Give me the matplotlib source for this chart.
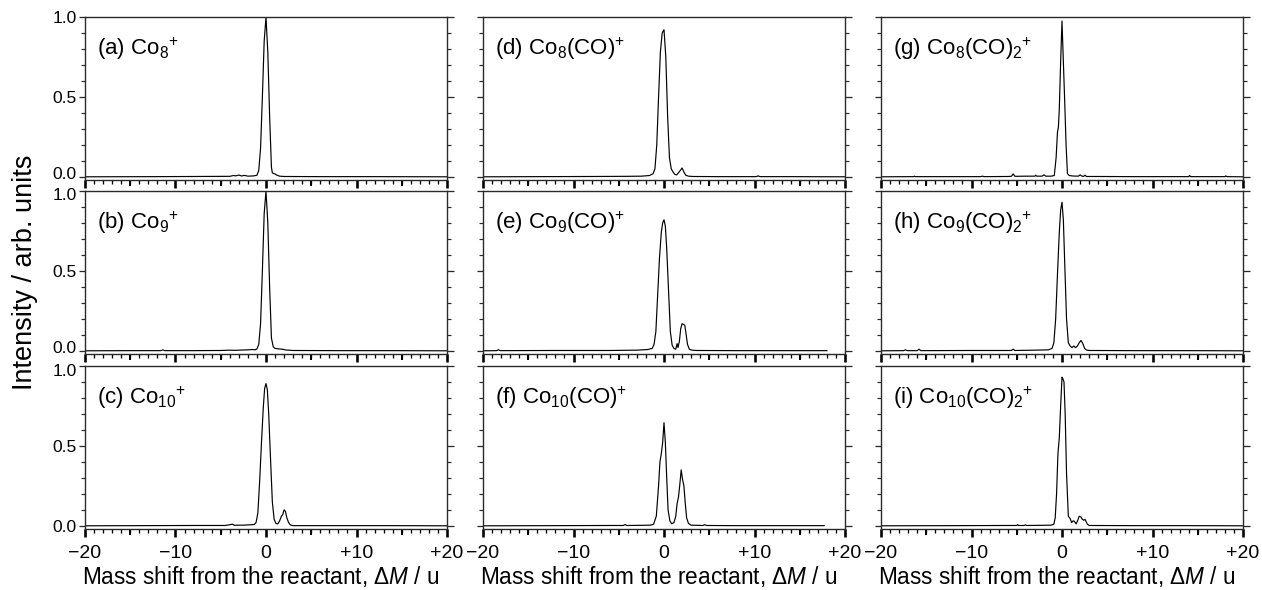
import matplotlib
matplotlib.use("Agg")
import matplotlib.pyplot as plt
from matplotlib.ticker import MultipleLocator, FixedLocator, FixedFormatter
from matplotlib.transforms import ScaledTranslation

plt.rcParams['font.family'] = ['Liberation Sans', 'DejaVu Sans']
plt.rcParams['mathtext.fontset'] = 'custom'
plt.rcParams['mathtext.rm'] = 'Liberation Sans'
plt.rcParams['mathtext.it'] = 'Liberation Sans:italic'
plt.rcParams['mathtext.default'] = 'regular'

# ---------------- data ----------------
labels = [r'(a) Co$_8\!{}^+$', r'(b) Co$_9\!{}^+$', r'(c) Co$_{10}\!{}^+$',
          r'(d) Co$_8$(CO)$\!^+$', r'(e) Co$_9$(CO)$\!^+$', r'(f) Co$_{10}$(CO)$\!^+$',
          r'(g) Co$_8$(CO)$_2\!{}^+$', r'(h) Co$_9$(CO)$_2\!{}^+$', r'(i) Co$_{10}$(CO)$_2\!{}^+$']

a_x = [-20, -12, -8, -4.0, -3.6, -3.3, -3.0, -2.7, -2.4, -2.0, -1.6, -1.3, -1.0, -0.8, -0.6, -0.4, -0.2, 0.0,
       0.2, 0.4, 0.6, 0.7, 0.85, 1.0, 1.2, 1.5, 2.0, 6, 12, 20]
a_y = [0, 0.001, 0.002, 0.003, 0.008, 0.006, 0.011, 0.005, 0.009, 0.004, 0.005, 0.006, 0.01, 0.04, 0.18, 0.5,
       0.85, 1.0, 0.78, 0.38, 0.06, 0.025, 0.02, 0.018, 0.01, 0.004, 0.002, 0.001, 0.001, 0.0]

b_x = [-20, -15, -11.6, -11.4, -11.2, -8, -5, -4.0, -3.5, -2.0, -1.5, -1.2, -1.0, -0.8, -0.6, -0.4, -0.2, 0,
       0.2, 0.4, 0.6, 0.8, 1.0, 1.4, 1.8, 2.2, 3, 8, 14, 20]
b_y = [0, 0.001, 0.001, 0.006, 0.001, 0.001, 0.002, 0.004, 0.003, 0.006, 0.008, 0.006, 0.012, 0.04, 0.17, 0.5,
       0.86, 1.0, 0.8, 0.4, 0.08, 0.025, 0.015, 0.012, 0.01, 0.005, 0.002, 0.001, 0.001, 0]

c_x = [-20, -14, -8, -4.5, -3.7, -3.5, -3.2, -2.5, -1.8, -1.3, -1.1, -0.9, -0.7, -0.5, -0.3, -0.15, 0, 0.15,
       0.3, 0.5, 0.7, 0.9, 1.1, 1.3, 1.5, 1.7, 1.85, 2.0, 2.15, 2.3, 2.5, 2.7, 3.0, 8, 14, 20]
c_y = [0, 0.001, 0.002, 0.002, 0.01, 0.003, 0.004, 0.004, 0.006, 0.008, 0.02, 0.08, 0.28, 0.52, 0.74, 0.86,
       0.89, 0.85, 0.7, 0.42, 0.15, 0.04, 0.015, 0.012, 0.03, 0.06, 0.07, 0.10, 0.09, 0.05, 0.02, 0.005, 0.001,
       0.001, 0.001, 0]

d_x = [-20, -14, -8, -4, -2.5, -1.6, -1.2, -1.0, -0.8, -0.6, -0.4, -0.2, 0, 0.2, 0.4, 0.6, 0.8, 1.0, 1.2, 1.4,
       1.6, 1.8, 2.0, 2.2, 2.4, 2.7, 3.2, 6, 10.2, 10.4, 10.6, 14, 20]
d_y = [0, 0.001, 0.002, 0.003, 0.004, 0.008, 0.02, 0.05, 0.2, 0.5, 0.78, 0.9, 0.92, 0.75, 0.38, 0.12, 0.05,
       0.03, 0.015, 0.012, 0.025, 0.04, 0.055, 0.03, 0.01, 0.004, 0.002, 0.001, 0.001, 0.006, 0.001, 0.001, 0]

e_x = [-20, -18.5, -18.3, -18.1, -12, -6, -3, -1.8, -1.3, -1.1, -0.9, -0.7, -0.5, -0.3, -0.15, 0, 0.15, 0.3,
       0.5, 0.7, 0.9, 1.1, 1.3, 1.45, 1.55, 1.7, 1.85, 2.0, 2.15, 2.3, 2.45, 2.6, 2.8, 3.1, 3.6, 8, 13, 18]
e_y = [0, 0.001, 0.007, 0.001, 0.002, 0.002, 0.004, 0.008, 0.015, 0.04, 0.12, 0.35, 0.58, 0.74, 0.8, 0.82,
       0.78, 0.64, 0.38, 0.12, 0.035, 0.015, 0.01, 0.045, 0.02, 0.06, 0.14, 0.17, 0.165, 0.16, 0.1, 0.04, 0.01,
       0.004, 0.002, 0.001, 0.001, 0.001]

f_x = [-20, -12, -6, -4.5, -4.3, -4.1, -2.5, -1.5, -1.15, -0.85, -0.6, -0.45, -0.3, -0.15, 0, 0.15, 0.3,
       0.45, 0.65, 0.85, 1.1, 1.3, 1.45, 1.6, 1.75, 1.9, 2.05, 2.2, 2.35, 2.5, 2.7, 3.0, 4.3, 4.5, 4.7, 8, 12,
       17.7]
f_y = [0, 0.001, 0.002, 0.002, 0.008, 0.002, 0.003, 0.004, 0.01, 0.06, 0.25, 0.4, 0.45, 0.52, 0.645, 0.52,
       0.3, 0.1, 0.03, 0.013, 0.02, 0.06, 0.14, 0.18, 0.26, 0.35, 0.29, 0.25, 0.14, 0.05, 0.015, 0.004, 0.002,
       0.007, 0.002, 0.001, 0.001, 0.001]

g_x = [-20, -16.4, -16.3, -16.2, -9, -8.8, -8.6, -6, -5.6, -5.4, -5.2, -4, -3.0, -2.9, -2.8, -2.2, -2.0, -1.8,
       -1.2, -0.85, -0.65, -0.5, -0.4, -0.3, -0.15, 0, 0.15, 0.3, 0.45, 0.6, 0.8, 1.2, 1.8, 2.0, 2.2, 2.4, 2.55,
       2.7, 4, 8, 14.0, 14.1, 14.2, 18.0, 18.1, 18.2, 20]
g_y = [0, 0.001, 0.004, 0.001, 0.001, 0.004, 0.001, 0.002, 0.003, 0.018, 0.003, 0.004, 0.004, 0.01, 0.004,
       0.004, 0.012, 0.004, 0.004, 0.008, 0.12, 0.28, 0.31, 0.42, 0.72, 0.975, 0.72, 0.47, 0.2, 0.02, 0.008,
       0.005, 0.004, 0.012, 0.004, 0.003, 0.01, 0.002, 0.002, 0.001, 0.001, 0.009, 0.001, 0.001, 0.006, 0.001, 0]

h_x = [-20, -17.5, -17.3, -17.1, -16.0, -15.8, -15.6, -10, -5.6, -5.4, -5.2, -3, -1.5, -1.1, -0.9, -0.7, -0.5,
       -0.3, -0.15, 0, 0.15, 0.3, 0.5, 0.7, 0.9, 1.1, 1.3, 1.5, 1.7, 1.9, 2.1, 2.3, 2.5, 2.7, 3.0, 8, 14, 20]
h_y = [0, 0.001, 0.006, 0.001, 0.001, 0.01, 0.001, 0.002, 0.002, 0.01, 0.002, 0.004, 0.006, 0.015, 0.05, 0.2,
       0.48, 0.74, 0.88, 0.93, 0.82, 0.55, 0.2, 0.05, 0.03, 0.02, 0.03, 0.02, 0.03, 0.05, 0.065, 0.045, 0.015,
       0.005, 0.002, 0.001, 0.001, 0]

i_x = [-20, -12, -6, -5.0, -4.9, -4.8, -4.2, -4.05, -3.9, -2.3, -1.2, -0.9, -0.75, -0.6, -0.45, -0.3, -0.15,
       0, 0.1, 0.22, 0.35, 0.5, 0.7, 0.9, 1.07, 1.2, 1.34, 1.56, 1.75, 1.9, 2.1, 2.25, 2.4, 2.55, 2.8, 3.0, 8,
       14, 20]
i_y = [0, 0.001, 0.002, 0.002, 0.008, 0.002, 0.002, 0.006, 0.002, 0.003, 0.004, 0.01, 0.05, 0.2, 0.45, 0.55,
       0.75, 0.93, 0.92, 0.9, 0.7, 0.33, 0.06, 0.045, 0.02, 0.03, 0.03, 0.012, 0.035, 0.06, 0.055, 0.04, 0.035,
       0.04, 0.01, 0.002, 0.001, 0.001, 0]

series = [(a_x, a_y), (b_x, b_y), (c_x, c_y),
          (d_x, d_y), (e_x, e_y), (f_x, f_y),
          (g_x, g_y), (h_x, h_y), (i_x, i_y)]

x_ticks = [-20, -10, 0, 10, 20]
x_mid_ticks = [-15, -5, 5, 15]
x_ticklabels = ['\u221220', '\u221210', '0', '+10', '+20']
y_ticks = [0.0, 0.5, 1.0]
y_ticklabels = ['0.0', '0.5', '1.0']
xlabel = r'Mass shift from the reactant, $\mathit{\Delta M}$ / u'
ylabel = 'Intensity / arb. units'

# ---------------- layout ----------------
W, H = 1262, 590
fig = plt.figure(figsize=(W / 100, H / 100), dpi=100)
col_left = [85, 483, 881]
col_w = 362
row_top = [17, 191, 366]
row_h = 163
spine_c = '#2a2a2a'
PX = 0.72  # points per pixel at 100 dpi

for col in range(3):
    for row in range(3):
        k = col * 3 + row
        l = col_left[col]
        t = row_top[row]
        ax = fig.add_axes([l / W, 1 - (t + row_h) / H, col_w / W, row_h / H])
        xs, ys = series[k]
        ax.plot(xs, ys, color='black', lw=0.85)
        ax.set_xlim(-20, 20)
        ax.set_ylim(-0.02, 1.0)
        for s in ax.spines.values():
            s.set_color(spine_c)
            s.set_linewidth(1.0)
        ax.xaxis.set_major_locator(FixedLocator(x_ticks))
        ax.xaxis.set_minor_locator(MultipleLocator(1))
        ax.yaxis.set_major_locator(FixedLocator(y_ticks))
        ax.yaxis.set_minor_locator(MultipleLocator(0.1))
        ax.tick_params(axis='x', which='major', direction='out', length=7.5 * PX, width=2.6 * PX,
                       color='black', top=False, labelsize=14, pad=6)
        ax.tick_params(axis='x', which='minor', direction='out', length=3.5 * PX, width=1.3 * PX,
                       color='black', top=False)
        ax.tick_params(axis='y', which='major', direction='out', length=6.5 * PX, width=1.3 * PX,
                       color=spine_c, left=True, right=True, labelsize=12.5, pad=1.5)
        ax.tick_params(axis='y', which='minor', direction='out', length=4 * PX, width=1.2 * PX,
                       color=spine_c, left=True, right=True)
        sec = ax.secondary_xaxis('bottom')
        sec.set_xticks(x_mid_ticks)
        sec.tick_params(direction='out', length=6 * PX, width=2.0 * PX, color='black', labelbottom=False)
        sec.spines['bottom'].set_visible(False)
        if row == 2:
            ax.xaxis.set_major_formatter(FixedFormatter(x_ticklabels))
        else:
            ax.tick_params(axis='x', labelbottom=False)
        if col == 0:
            ax.yaxis.set_major_formatter(FixedFormatter(y_ticklabels))
            yt = ax.yaxis.get_major_ticks()
            # nudge the crowded 0.0 / 1.0 labels at panel junctions apart a little
            if row < 2:
                yt[0].label1.set_transform(yt[0].label1.get_transform()
                                           + ScaledTranslation(0, 3.5 / 100, fig.dpi_scale_trans))
            if row > 0:
                yt[2].label1.set_transform(yt[2].label1.get_transform()
                                           + ScaledTranslation(0, -3.5 / 100, fig.dpi_scale_trans))
        else:
            ax.tick_params(axis='y', labelleft=False)
        ax.text(12 / col_w, 1 - 38 / row_h, labels[k], transform=ax.transAxes,
                fontsize=16, ha='left', va='baseline')
    fig.text((col_left[col] + col_w / 2 - 5) / W, 1 - 584 / H, xlabel,
             ha='center', va='baseline', fontsize=16.3)

fig.text(25 / W, 1 - 272 / H, ylabel, rotation=90, ha='center', va='center', fontsize=19.5)

fig.savefig('out.png', dpi=100)
